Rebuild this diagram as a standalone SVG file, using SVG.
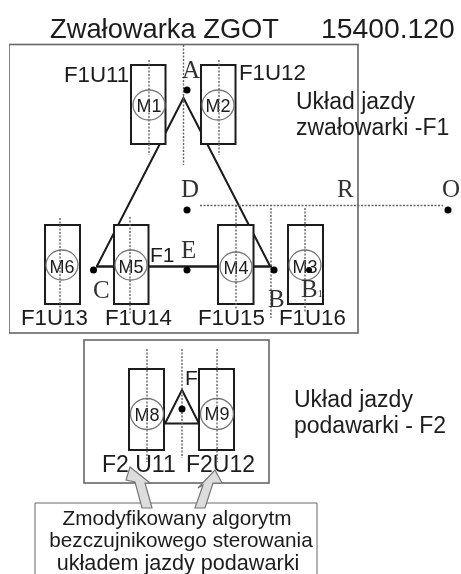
<svg xmlns="http://www.w3.org/2000/svg" width="461" height="574" viewBox="0 0 461 574">
<style>
text{font-family:"Liberation Sans",Arial,sans-serif;fill:#1c1c1c}
.s{font-family:"Liberation Serif","Times New Roman",serif;fill:#333;font-size:25px}
.l{font-size:22.300px}
.k{font-size:23px}
.m{font-size:18px;text-anchor:middle}
.n{font-size:20.700px;text-anchor:middle}
.b{fill:none;stroke:#666;stroke-width:1.6}
.r{fill:#fff;stroke:#1a1a1a;stroke-width:2}
.c{fill:none;stroke:#777;stroke-width:1.3}
.d{stroke:#666;stroke-width:1.4;stroke-dasharray:2 1.5;fill:none}
.w{stroke:#1a1a1a;stroke-width:2;fill:none}
.a{fill:#ddd;stroke:#777;stroke-width:1.2}
</style>
<defs><filter id="soft" x="0" y="0" width="100%" height="100%"><feGaussianBlur stdDeviation="0.4"/></filter></defs>
<rect width="461" height="574" fill="#fff"/>
<g filter="url(#soft)">
<g id="frames">
<rect class="b" x="9" y="44.500" width="349" height="288.500"/>
<rect class="b" x="84" y="340" width="185" height="143"/>
<path class="b" style="stroke-width:1" d="M35 574V503H317V574"/>
</g>
<g id="connectors-under">
<path class="w" d="M97 266L183.500 98L270 266"/>
<path class="w" style="stroke-width:2.400" d="M96 266.500H272"/>
<path class="w" d="M182 390L165 423.500H199Z"/>
</g>
<g id="M1"><rect class="r" x="131" y="65" width="34.500" height="79"/><ellipse class="c" cx="149" cy="105" rx="16" ry="15"/><text class="m" x="149" y="112">M1</text><text class="l" x="64" y="82">F1U11</text></g>
<g id="M2"><rect class="r" x="201" y="65" width="34.500" height="79"/><ellipse class="c" cx="218" cy="105" rx="16" ry="15"/><text class="m" x="218" y="112">M2</text><text class="l" x="239" y="80">F1U12</text></g>
<g id="M6"><rect class="r" x="45" y="225" width="35" height="79"/><ellipse class="c" cx="62" cy="265" rx="16" ry="15"/><text class="m" x="62" y="273">M6</text><text class="l" x="21" y="325">F1U13</text></g>
<g id="M5"><rect class="r" x="114" y="225" width="34.500" height="79"/><ellipse class="c" cx="131" cy="265" rx="16" ry="15"/><text class="m" x="131" y="273">M5</text><text class="l" x="105" y="325">F1U14</text></g>
<g id="M4"><rect class="r" x="218" y="225" width="35.500" height="79"/><ellipse class="c" cx="236" cy="267" rx="16" ry="15"/><text class="m" x="236" y="274">M4</text><text class="l" x="198" y="325">F1U15</text></g>
<g id="M3"><rect class="r" x="288" y="225" width="35" height="79"/><ellipse class="c" cx="305" cy="265" rx="16" ry="15"/><text class="m" x="305" y="273">M3</text><text class="l" x="279" y="325">F1U16</text></g>
<g id="M8"><rect class="r" x="129" y="369" width="35" height="81"/><ellipse class="c" cx="147" cy="414" rx="16.500" ry="15.500"/><text class="m" x="147" y="421">M8</text><text class="k" x="102" y="472">F2 U11</text></g>
<g id="M9"><rect class="r" x="199" y="369" width="35" height="81"/><ellipse class="c" cx="217" cy="414" rx="16.500" ry="15.500"/><text class="m" x="217" y="420">M9</text><text class="k" x="186" y="472">F2U12</text></g>
<g id="connectors">
<path class="d" d="M183.500 45V165M149 60V155M219 60V155M200 205.500H443M60 218V315M130 217V315M236 205V310M271 208V318M305 208V312"/>
<path class="d" d="M182 349V458M147 349V462M217 349V462"/>
<path class="a" d="M130 467L150 483L145 483L152 508L142 508L135 482L126 480Z"/>
<path class="a" d="M215 470L222 483L213 483L205 508L195 508L203 485L198 488Z"/>
</g>
<g id="title"><text x="50" y="38" font-size="27.300">Zwałowarka ZGOT</text><text x="321" y="38" font-size="28.300">15400.120</text></g>
<g id="points">
<circle cx="187" cy="90" r="3.500"/><circle cx="187" cy="210" r="3.500"/><circle cx="448" cy="210" r="3.500"/><circle cx="93.500" cy="270" r="3.500"/><circle cx="187" cy="270" r="3.500"/><circle cx="274" cy="270" r="3.500"/><circle cx="309" cy="270" r="3"/><circle cx="182" cy="409" r="3.500"/>
<text class="s" x="182" y="78">A</text><text class="s" x="181" y="197">D</text><text class="s" x="337" y="197">R</text><text class="s" x="442" y="197">O</text><text class="s" x="181" y="258">E</text><text class="s" x="93" y="298">C</text><text class="s" x="268" y="307">B</text><text class="s" x="301" y="297">B<tspan font-size="10">1</tspan></text>
<text x="150" y="262" font-size="21">F1</text><text x="185" y="385" font-size="21">F</text>
</g>
<g id="labels">
<text class="k" x="296" y="109">Układ jazdy</text><text class="k" x="296" y="135">zwałowarki -F1</text>
<text class="k" x="294" y="407">Układ jazdy</text><text class="k" x="294" y="433">podawarki - F2</text>
<text class="n" x="177" y="525">Zmodyfikowany algorytm</text><text class="n" x="181" y="547">bezczujnikowego sterowania</text><text class="n" x="178" y="570" style="font-size:21.600px">układem jazdy podawarki</text>
</g>
</g>
</svg>
